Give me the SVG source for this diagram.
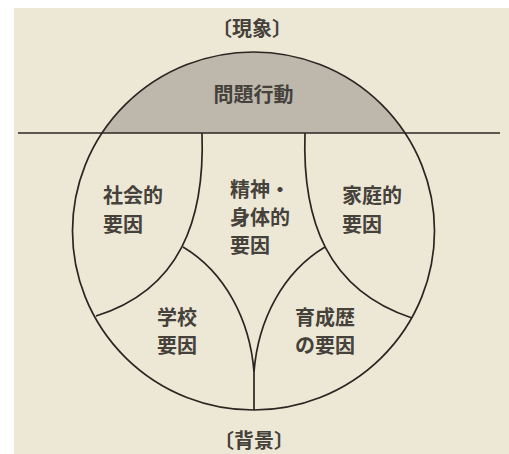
<svg xmlns="http://www.w3.org/2000/svg" width="509" height="454" viewBox="0 0 509 454">
<style>
.ln{fill:none;stroke:#2a2622;stroke-width:1.7}
.t{font-family:"Noto Sans CJK JP","Noto Sans CJK SC",sans-serif;font-size:20px;font-weight:bold;fill:#45413b}
.c{text-anchor:middle}
</style>
<defs>
<clipPath id="top"><rect x="0" y="0" width="509" height="133"/></clipPath>
</defs>
<rect x="0" y="0" width="509" height="454" fill="#ffffff"/>
<rect x="14" y="8" width="495" height="446" fill="#ede8d6"/>
<g id="cap">
<ellipse cx="253.5" cy="231" rx="181" ry="179" fill="#bdb8ab" clip-path="url(#top)"/>
<text class="t c" x="253.5" y="102" font-size="19">問題行動</text>
</g>
<g id="connectors">
<ellipse class="ln" cx="253.5" cy="231" rx="181" ry="179"/>
<line class="ln" x1="18" y1="133" x2="500" y2="133"/>
<path class="ln" d="M202,133 C205,220 180,290 96,316"/>
<path class="ln" d="M305,133 C302,220 327,290 412,318"/>
<path class="ln" d="M183,247 C225,272 250,320 254,372 L254,410"/>
<path class="ln" d="M325,247 C283,272 258,320 254,372"/>
</g>
<g id="phenomenon"><text class="t c" x="252" y="36" font-size="16" font-weight="normal">〔現象〕</text></g>
<g id="background"><text class="t c" x="254" y="448" font-size="16" font-weight="normal">〔背景〕</text></g>
<g id="social"><text class="t" x="103" y="203">社会的</text><text class="t" x="103" y="232">要因</text></g>
<g id="mental"><text class="t" x="230" y="197">精神・</text><text class="t" x="230" y="225">身体的</text><text class="t" x="230" y="253">要因</text></g>
<g id="family"><text class="t" x="342" y="203">家庭的</text><text class="t" x="342" y="232">要因</text></g>
<g id="school"><text class="t" x="157" y="325">学校</text><text class="t" x="157" y="353">要因</text></g>
<g id="history"><text class="t" x="295" y="325">育成歴</text><text class="t" x="295" y="353">の要因</text></g>
</svg>
